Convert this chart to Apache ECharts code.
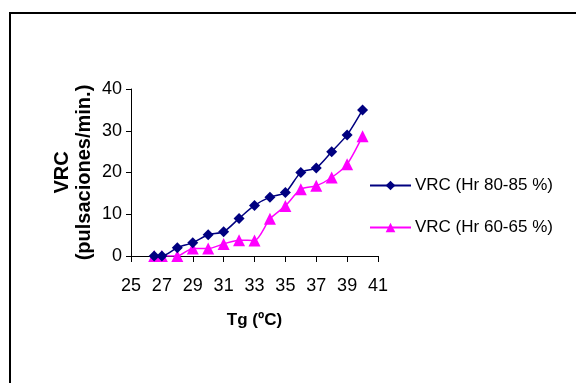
<!DOCTYPE html>
<html>
<head>
<meta charset="utf-8">
<script src="https://cdn.jsdelivr.net/npm/echarts@6/dist/echarts.min.js"></script>
<style>
  html, body { margin: 0; padding: 0; background: #fff; }
  #chart { width: 576px; height: 383px; }
</style>
</head>
<body>
<div id="chart"></div>
<script>
// Temperatura del globo (ºC)
const tg = [26.5, 27, 28, 29, 30, 31, 32, 33, 34, 35, 36, 37, 38, 39, 40];
// VRC, humedad relativa 80-85 %
const vrcHrAlta = [0, 0, 2, 3.2, 5.1, 5.8, 9, 12.1, 14.1, 15.2, 20, 21.1, 25, 29, 35];
// VRC, humedad relativa 60-65 %
const vrcHrBaja = [0, 0, 0, 1.8, 1.8, 2.9, 3.8, 3.7, 8.9, 12, 16, 16.8, 18.8, 22, 28.7];

const xTicks = { min: 25, max: 41, step: 2 };
const yTicks = { min: 0, max: 40, step: 10 };

const seriesNames = ['VRC (Hr 80-85 %)', 'VRC (Hr 60-65 %)'];

const pairs = (xs, ys) => xs.map((x, i) => [x, ys[i]]);

const font = 'Liberation Sans, Arial, sans-serif';
const chart = echarts.init(document.getElementById('chart'), null, { renderer: 'canvas' });

chart.setOption({
  animation: false,
  backgroundColor: '#ffffff',
  textStyle: { fontFamily: font, color: '#000' },
  graphic: [{
    type: 'rect',
    shape: { x: 10, y: 13, width: 640, height: 420 },
    style: { fill: 'none', stroke: '#000', lineWidth: 2 },
    silent: true
  }],
  grid: { left: 131, right: 198, top: 89, bottom: 127, containLabel: false },
  legend: {
    orient: 'vertical',
    left: 369,
    top: 177,
    padding: 0,
    itemWidth: 41,
    itemHeight: 12,
    itemGap: 25,
    textStyle: { fontFamily: font, fontSize: 17, color: '#000', padding: [0, 0, 0, -1] },
    data: seriesNames
  },
  xAxis: {
    type: 'value',
    min: xTicks.min,
    max: xTicks.max,
    interval: xTicks.step,
    name: 'Tg (ºC)',
    nameLocation: 'middle',
    nameGap: 56,
    nameTextStyle: { fontFamily: font, fontSize: 17, fontWeight: 'bold', color: '#000' },
    axisLine: { lineStyle: { color: '#000', width: 1 } },
    axisTick: { show: true, length: 6, inside: false, lineStyle: { color: '#000' } },
    axisLabel: { fontFamily: font, fontSize: 18, color: '#000', margin: 21 },
    splitLine: { show: false }
  },
  yAxis: {
    type: 'value',
    min: yTicks.min,
    max: yTicks.max,
    interval: yTicks.step,
    name: 'VRC\n(pulsaciones/min.)',
    nameLocation: 'middle',
    nameRotate: 90,
    nameGap: 36,
    nameTextStyle: { fontFamily: font, fontSize: 20, fontWeight: 'bold', color: '#000', lineHeight: 22 },
    axisLine: { show: true, lineStyle: { color: '#000', width: 1 } },
    axisTick: { show: true, length: 5, inside: false, lineStyle: { color: '#000' } },
    axisLabel: { fontFamily: font, fontSize: 18, color: '#000', margin: 9 },
    splitLine: { show: false }
  },
  series: [
    {
      name: seriesNames[0],
      type: 'line',
      data: pairs(tg, vrcHrAlta),
      smooth: 0.25,
      symbol: 'diamond',
      symbolSize: 11,
      lineStyle: { color: '#000080', width: 1.5 },
      itemStyle: { color: '#000080' },
      z: 3
    },
    {
      name: seriesNames[1],
      type: 'line',
      data: pairs(tg, vrcHrBaja),
      smooth: 0.25,
      symbol: 'triangle',
      symbolSize: 12,
      lineStyle: { color: '#ff00ff', width: 1.5 },
      itemStyle: { color: '#ff00ff' },
      z: 2
    }
  ]
});
</script>
</body>
</html>
